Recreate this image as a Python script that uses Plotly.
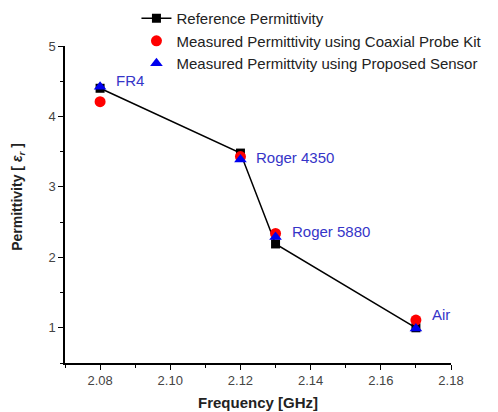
import plotly.graph_objects as go

frequency = [2.08, 2.12, 2.13, 2.17]
materials = ["FR4", "Roger 4350", "Roger 5880", "Air"]
reference_perm = [4.40, 3.48, 2.19, 1.00]
coaxial_perm = [4.21, 3.43, 2.34, 1.11]
sensor_perm = [4.42, 3.39, 2.29, 0.99]
label_yshift = [6, 2, 5, 14]

FONT = "Liberation Sans, Arial"

fig = go.Figure()
fig.add_trace(go.Scatter(
    x=frequency, y=reference_perm, mode="lines+markers",
    name="Reference Permittivity",
    line=dict(color="black", width=1.5),
    marker=dict(symbol="square", size=9, color="black"),
))
fig.add_trace(go.Scatter(
    x=frequency, y=coaxial_perm, mode="markers",
    name="Measured Permittivity using Coaxial Probe Kit",
    marker=dict(symbol="circle", size=11, color="#ff0000"),
))
fig.add_trace(go.Scatter(
    x=frequency, y=sensor_perm, mode="markers",
    name="Measured Permittvity using Proposed Sensor",
    marker=dict(symbol="triangle-up", size=11, color="#0000ee"),
))

for xv, yv, txt, ys in zip(frequency, sensor_perm, materials, label_yshift):
    fig.add_annotation(x=xv, y=yv, text=txt, showarrow=False,
                       xanchor="left", yanchor="middle", xshift=14, yshift=ys,
                       font=dict(family=FONT, size=15, color="#3535c8"))

# axis titles as paper annotations
fig.add_annotation(xref="paper", yref="paper", x=0.5, y=-0.126,
                   text="<b>Frequency [GHz]</b>", showarrow=False,
                   xanchor="center", yanchor="middle",
                   font=dict(family=FONT, size=15, color="#222222"))
fig.add_annotation(xref="paper", yref="paper", x=-0.122, y=0.524,
                   text="<b>Permittivity [ <i>ε<sub>r</sub></i> ]</b>", showarrow=False,
                   textangle=-90, xanchor="center", yanchor="middle",
                   font=dict(family=FONT, size=14, color="#222222"))

axis_common = dict(
    showline=True, linecolor="black", linewidth=1.5, mirror=False,
    ticks="outside", ticklen=5, tickwidth=1.2, tickcolor="black",
    showgrid=False, zeroline=False, automargin=False,
    tickfont=dict(family=FONT, size=13, color="#444444"),
)

fig.update_xaxes(
    range=[2.07, 2.18], tick0=2.08, dtick=0.02, tickformat=".2f",
    minor=dict(dtick=0.01, tick0=2.07, ticks="outside", ticklen=3, tickcolor="black"),
    **axis_common,
)
fig.update_yaxes(
    range=[0.5, 5.0], tick0=1, dtick=1,
    minor=dict(dtick=0.5, tick0=0.5, ticks="outside", ticklen=3, tickcolor="black"),
    **axis_common,
)

fig.update_layout(
    width=498, height=412,
    margin=dict(l=65, r=47, t=46, b=49, autoexpand=False),
    plot_bgcolor="white", paper_bgcolor="white",
    legend=dict(xref="container", yref="container", x=0.274, y=0.995,
                xanchor="left", yanchor="top",
                bgcolor="rgba(0,0,0,0)", tracegroupgap=0,
                font=dict(family=FONT, size=15, color="#222222"),
                itemwidth=30),
)

fig.write_html("out.html", config={"displayModeBar": False},
               post_script="document.body.style.margin='0';")
